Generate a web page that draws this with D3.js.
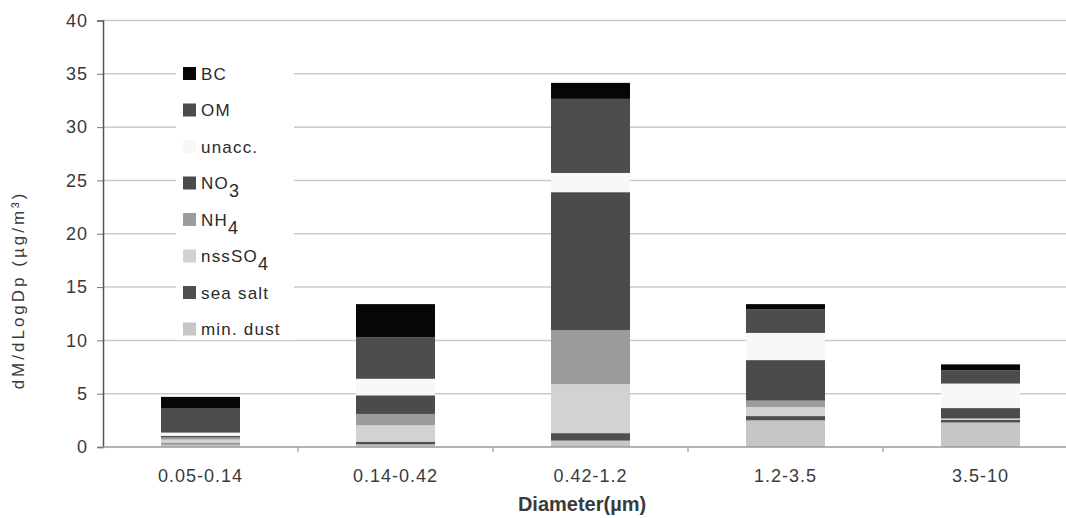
<!DOCTYPE html>
<html>
<head>
<meta charset="utf-8">
<script src="https://cdn.jsdelivr.net/npm/d3@7"></script>
<style>
  html, body { margin: 0; padding: 0; background: #fff; }
  svg { display: block; font-family: "Liberation Sans", Arial, sans-serif; }
</style>
</head>
<body>
<svg id="chart" width="1066" height="518"></svg>
<script>
// ---- data ----
const categories = ["0.05-0.14", "0.14-0.42", "0.42-1.2", "1.2-3.5", "3.5-10"];
const seriesNames = ["min. dust", "sea salt", "nssSO4", "NH4", "NO3", "unacc.", "OM", "BC"];
const minDust = [0.25, 0.25, 0.60, 2.50, 2.30];
const seaSalt = [0.10, 0.25, 0.70, 0.40, 0.25];
const nssSO4  = [0.35, 1.55, 4.60, 0.85, 0.08];
const nh4     = [0.20, 1.05, 5.05, 0.60, 0.07];
const no3     = [0.15, 1.75, 12.95, 3.80, 0.95];
const unacc   = [0.30, 1.55, 1.80, 2.55, 2.30];
const om      = [2.25, 3.90, 6.95, 2.20, 1.25];
const bc      = [1.10, 3.10, 1.50, 0.50, 0.55];
const yTicks  = [0, 5, 10, 15, 20, 25, 30, 35, 40];

const seriesValues = [minDust, seaSalt, nssSO4, nh4, no3, unacc, om, bc];
const colors = ["#c6c6c6", "#4e4e4e", "#d2d2d2", "#9c9c9c", "#4b4b4b", "#f8f8f8", "#4c4c4c", "#060606"];

// legend order (top to bottom) with label parts [main, subscript, series index]
const legendItems = [
  ["BC", "", 7], ["OM", "", 6], ["unacc.", "", 5], ["NO", "3", 4],
  ["NH", "4", 3], ["nssSO", "4", 2], ["sea salt", "", 1], ["min. dust", "", 0]
];

const rows = categories.map((c, i) => {
  const r = { cat: c };
  seriesNames.forEach((s, k) => r[s] = seriesValues[k][i]);
  return r;
});

const svg = d3.select("#chart");
const x = d3.scaleBand().domain(categories).range([103, 1078]).padding(0);
const y = d3.scaleLinear().domain([0, 40]).range([447, 20.5]);
const barFrac = 0.405;

// gridlines
svg.append("g").selectAll("line").data(yTicks.filter(d => d > 0)).join("line")
  .attr("x1", 103).attr("x2", 1066)
  .attr("y1", d => y(d)).attr("y2", d => y(d))
  .attr("stroke", "#cacaca").attr("stroke-width", 1.5);

// stacked bars
const stack = d3.stack().keys(seriesNames)(rows);
const bw = x.bandwidth() * barFrac;
svg.append("g").selectAll("g").data(stack).join("g")
  .attr("fill", (d, i) => colors[i])
  .selectAll("rect").data(d => d).join("rect")
  .attr("x", d => x(d.data.cat) + (x.bandwidth() - bw) / 2)
  .attr("width", bw)
  .attr("y", d => y(d[1]))
  .attr("height", d => y(d[0]) - y(d[1]));

// y axis
const yAxis = svg.append("g").attr("transform", "translate(103,0)")
  .call(d3.axisLeft(y).tickValues(yTicks).tickSize(6).tickPadding(9));
yAxis.select(".domain").attr("stroke", "#555").attr("stroke-width", 1.5);
yAxis.selectAll(".tick line").attr("stroke", "#777");
yAxis.selectAll(".tick text").attr("font-size", 18).attr("fill", "#3a3a3a")
  .attr("letter-spacing", 1)
  .attr("font-family", "Liberation Sans, Arial, sans-serif");

// x axis
const xAxis = svg.append("g").attr("transform", "translate(0,447)")
  .call(d3.axisBottom(x).tickSize(0).tickPadding(22));
xAxis.select(".domain").attr("stroke", "#9a9a9a").attr("stroke-width", 1.5)
  .attr("d", "M103,0H1066");
xAxis.selectAll(".tick text").attr("font-size", 18).attr("fill", "#3a3a3a")
  .attr("letter-spacing", 1)
  .attr("font-family", "Liberation Sans, Arial, sans-serif");
// boundary ticks
svg.append("g").selectAll("line").data(categories.slice(1)).join("line")
  .attr("x1", d => x(d)).attr("x2", d => x(d))
  .attr("y1", 447).attr("y2", 452)
  .attr("stroke", "#888");

// axis titles
svg.append("text")
  .attr("transform", "translate(24,290) rotate(-90)")
  .attr("text-anchor", "middle").attr("font-size", 17).attr("fill", "#3a3a3a")
  .attr("letter-spacing", 3)
  .text("dM/dLogDp (µg/m³)");
svg.append("text")
  .attr("x", 582).attr("y", 511)
  .attr("text-anchor", "middle").attr("font-size", 20).attr("font-weight", "bold")
  .attr("fill", "#3a3a3a")
  .text("Diameter(µm)");

// legend
const lg = svg.append("g");
lg.append("rect").attr("x", 176).attr("y", 56).attr("width", 118).attr("height", 284)
  .attr("fill", "#fff");
const item = lg.selectAll("g").data(legendItems).join("g")
  .attr("transform", (d, i) => `translate(183,${73.5 + i * 36.5})`);
item.append("rect").attr("x", 0).attr("y", -6.5).attr("width", 13).attr("height", 13)
  .attr("fill", d => colors[d[2]]);
const t = item.append("text").attr("x", 18).attr("y", 6)
  .attr("font-size", 17).attr("fill", "#2a2a2a").attr("letter-spacing", 1.2);
t.append("tspan").text(d => d[0]);
t.append("tspan").attr("dy", 8).attr("font-size", 18).text(d => d[1]);
</script>
</body>
</html>
